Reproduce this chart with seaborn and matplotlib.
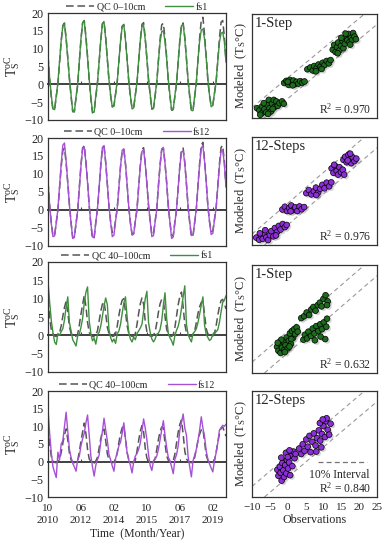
import matplotlib
matplotlib.use('Agg')
import matplotlib.pyplot as plt
import matplotlib.patheffects as pe
import seaborn as sns

# monthly series, Oct 2010 .. Oct 2019 (index 0 = Oct 2010)
months = list(range(109))
date_ticks = [0, 20, 40, 60, 80, 100]
date_labels = ['10\n2010', '06\n2012', '02\n2014', '10\n2015', '06\n2017', '02\n2019']

qc_top = [8.0, 1.5, -3.5,
          -7.2, -7.0, -3.5, 0.0, 6.0, 12.0, 16.5, 17.2, 13.0, 7.5, 1.5, -3.5,
          -7.7, -7.5, -3.8, -0.3, 6.2, 12.5, 17.2, 17.9, 13.5, 7.8, 1.2, -4.0,
          -8.0, -7.6, -3.5, 0.2, 6.0, 12.2, 17.0, 17.6, 13.2, 7.2, 1.0, -3.2,
          -6.2, -6.0, -2.8, 0.5, 6.3, 12.0, 16.3, 16.8, 12.8, 7.0, 0.8, -3.5,
          -6.7, -6.5, -3.0, 0.3, 6.5, 12.4, 16.8, 17.3, 13.0, 7.4, 1.2, -3.0,
          -6.9, -6.6, -3.2, 0.4, 6.8, 12.6, 16.7, 17.1, 12.9, 7.6, 1.0, -3.4,
          -7.2, -7.0, -3.3, 0.2, 6.4, 12.4, 16.8, 17.2, 13.3, 7.3, 0.9, -3.6,
          -7.4, -7.2, -3.5, 0.3, 6.9, 13.0, 18.0, 18.8, 13.8, 7.9, 1.1, -3.2,
          -6.0, -5.8, -2.6, 0.6, 6.6, 12.8, 17.4, 17.9, 13.4, 6.5]

fs1_top = [7.8, 1.8, -3.2,
           -6.9, -7.1, -3.2, 0.4, 6.4, 12.3, 16.4, 17.0, 12.6, 7.2, 1.8, -3.0,
           -7.5, -7.8, -3.5, 0.0, 6.5, 12.8, 17.3, 17.8, 13.0, 7.5, 1.5, -3.6,
           -7.8, -7.8, -3.2, 0.5, 6.3, 12.3, 16.9, 17.4, 12.8, 7.0, 1.3, -3.0,
           -6.4, -6.1, -2.5, 0.8, 6.5, 12.0, 16.2, 16.6, 12.4, 6.8, 1.0, -3.2,
           -6.9, -6.6, -2.8, 0.6, 6.6, 12.2, 16.2, 16.5, 12.5, 7.0, 1.4, -2.8,
           -7.0, -6.8, -3.0, 0.7, 6.5, 11.8, 14.8, 15.0, 12.0, 7.2, 1.2, -3.0,
           -7.3, -7.1, -3.0, 0.5, 6.5, 12.3, 16.5, 16.8, 12.8, 7.0, 1.2, -3.2,
           -7.3, -7.4, -3.2, 0.6, 6.8, 12.2, 15.2, 15.5, 12.6, 7.4, 1.4, -3.0,
           -6.3, -5.9, -2.4, 0.8, 6.4, 11.8, 14.3, 14.6, 12.0, 6.2]

fs12_top = [8.2, 1.2, -3.8,
            -7.4, -7.2, -3.6, 0.2, 6.5, 12.8, 18.0, 18.6, 13.6, 7.6, 1.4, -3.6,
            -7.9, -7.6, -3.7, -0.1, 6.0, 12.2, 17.0, 17.5, 13.2, 7.6, 1.3, -3.8,
            -7.5, -7.7, -3.4, 0.3, 6.2, 12.4, 17.4, 17.9, 13.3, 7.3, 1.1, -3.4,
            -7.4, -7.0, -3.0, 0.4, 6.2, 12.1, 16.6, 17.0, 12.9, 7.1, 0.9, -3.6,
            -7.0, -6.7, -3.1, 0.2, 6.3, 12.0, 16.3, 16.7, 12.8, 7.2, 1.3, -3.1,
            -7.4, -7.1, -3.3, 0.3, 6.6, 12.4, 17.0, 17.4, 13.0, 7.5, 1.1, -3.5,
            -7.9, -7.5, -3.4, 0.1, 6.2, 12.1, 16.1, 16.5, 12.9, 7.1, 1.0, -3.4,
            -7.1, -6.9, -3.3, 0.4, 6.7, 12.6, 17.3, 17.8, 13.4, 7.6, 1.2, -3.3,
            -6.8, -6.5, -2.8, 0.5, 6.3, 12.2, 16.3, 16.7, 12.8, 6.3]

qc_deep = [9.8, 5.0, 1.5, 0.3, -0.2, -0.3, 0.0, 0.6, 2.6, 5.2,
           7.6, 9.3, 6.2, 2.4, 0.5, 0.0, -0.3, -0.2, 0.3, 2.8,
           5.8, 8.4, 10.9, 8.0, 3.5, 0.8, 0.1, -0.3, -0.4, 0.2,
           1.2, 3.8, 6.5, 8.5, 9.2, 6.0, 2.2, 0.5, 0.0, -0.3,
           -0.2, 0.4, 2.5, 5.4, 7.9, 9.6, 10.0, 6.5, 2.6, 0.6,
           0.0, -0.3, -0.2, 0.5, 3.0, 6.0, 8.6, 10.2, 8.5, 3.8,
           1.0, 0.2, -0.2, -0.3, 0.1, 0.9, 3.4, 6.3, 8.6, 9.8,
           9.6, 5.2, 1.6, 0.4, -0.1, -0.3, 0.2, 2.2, 5.3, 8.4,
           10.6, 11.8, 7.8, 3.0, 0.8, 0.1, -0.2, -0.3, 0.2, 1.2,
           3.5, 6.0, 7.8, 9.0, 9.3, 5.6, 1.8, 0.4, 0.0, -0.3,
           -0.2, 0.4, 2.6, 5.4, 7.8, 9.5, 9.8, 8.6, 7.2]

fs1_deep = [14.8, 9.0, 4.0, 0.8, -1.8, -2.5, 0.5, 0.0, 1.0, 1.8,
            4.2, 7.8, 10.5, 3.5, 1.2, -1.2, -2.0, -2.9, -0.2, 0.3,
            2.2, 4.6, 8.8, 11.8, 13.2, 4.0, 0.5, -1.5, -0.8, -2.4,
            0.2, 0.8, 2.5, 5.2, 8.0, 10.2, 8.4, 1.5, -0.6, -1.8,
            -1.0, -2.2, 0.4, 1.2, 3.0, 6.0, 8.8, 10.5, 5.0, 0.8,
            -1.0, -1.8, -0.5, -1.2, 0.5, 1.2, 2.0, 3.0, 6.5, 10.0,
            12.0, 3.5, 0.8, -1.0, -1.8, -1.0, 0.3, 0.6, 1.6, 4.0,
            8.2, 11.6, 4.5, 0.5, -0.7, -1.5, -2.7, 0.0, 1.4, 2.5,
            4.5, 7.3, 10.5, 13.5, 3.0, 0.2, -0.9, -1.8, 0.5, 1.0,
            1.8, 3.5, 5.8, 8.2, 10.5, 2.7, 0.3, -0.6, -1.4, -1.0,
            0.3, 0.5, 1.0, 1.5, 3.5, 6.4, 9.0, 9.6, 10.8]

fs12_deep = [15.0, 8.0, 2.5, -1.4, -3.0, -4.5, 2.7, 0.5, 5.0, 5.9,
             10.0, 14.0, 8.6, 3.5, 1.2, -0.5, -1.5, -2.7, 0.5, 1.6,
             4.5, 6.5, 8.0, 11.0, 13.2, 7.5, 1.6, -1.5, -4.1, -1.0,
             0.5, 1.8, 5.5, 8.5, 12.3, 9.0, 6.0, 2.0, 0.5, -1.2,
             -2.7, 0.9, 2.5, 4.5, 5.5, 8.0, 11.0, 6.5, 2.5, 0.5,
             -1.0, -3.2, 0.0, 1.6, 2.3, 3.5, 5.3, 8.5, 12.1, 9.5,
             6.2, 2.0, -1.1, -2.5, 0.2, 0.7, 1.6, 3.5, 6.2, 9.0,
             11.6, 7.5, 4.0, 1.2, 0.3, -1.5, -3.4, 0.7, 2.0, 4.5,
             8.9, 11.0, 13.5, 9.5, 7.5, 1.5, -1.5, -4.3, 0.3, 1.8,
             3.5, 6.0, 8.9, 12.7, 9.5, 7.1, 3.0, 0.7, -0.6, -1.8,
             -2.9, 0.3, 2.5, 5.3, 8.9, 9.6, 10.3, 10.0, 10.6]

# scatter: observations vs modelled
obs_1 = [-8.6, -7.9, -7.2, -7.2, -6.5, -6.0, -5.8, -5.3, -5.1, -4.7, -4.4, -3.9, -3.7, -3.2, -2.8,
         -2.3, -1.6, -1.1, -6.7, -7.7, -5.5, -4.2,
         -1.0, -0.4, 0.2, 0.6, 1.1, 1.6, 2.0, 2.5, 3.0, 3.5, 4.1, 4.7, 0.0, 1.4,
         5.5, 6.3, 7.0, 7.4, 8.1, 8.6, 9.2, 9.8, 10.3, 10.9, 11.5, 12.0, 7.9, 9.5,
         12.6, 13.0, 13.4, 13.8, 14.1, 14.5, 14.9, 15.3, 15.6, 16.0, 16.3, 16.7, 17.0, 17.3,
         17.7, 18.0, 18.3, 18.7, 19.1, 16.2, 14.0, 15.0, 17.5]
mod_1 = [-6.7, -7.4, -6.1, -8.3, -7.0, -8.1, -5.5, -3.9, -6.7, -7.8, -5.2, -3.9, -6.3, -4.4, -5.9,
         -5.0, -4.4, -5.2, -5.0, -8.9, -8.6, -6.9,
         1.8, 2.5, 1.2, 2.8, 1.9, 2.6, 1.4, 2.2, 1.6, 2.4, 1.9, 2.3, 2.2, 1.0,
         6.4, 7.0, 6.0, 7.5, 6.8, 8.0, 7.3, 8.6, 7.8, 9.2, 8.4, 9.5, 5.7, 6.5,
         13.0, 14.6, 12.2, 13.8, 15.4, 12.8, 14.3, 16.0, 13.5, 15.0, 17.5, 16.2, 18.3, 15.5,
         17.0, 16.2, 18.6, 17.4, 16.5, 18.4, 11.8, 17.0, 14.7]

obs_2 = [-8.8, -8.0, -7.5, -7.0, -6.6, -6.0, -5.5, -5.0, -4.6, -4.0, -3.6, -3.0, -2.5, -2.0, -1.4,
         -0.8, -0.3, -6.3, -3.3, -7.8,
         -1.5, -0.8, -0.2, 0.4, 1.0, 1.5, 2.1, 2.7, 3.3, 3.9, 4.6, 0.8,
         5.2, 5.9, 6.6, 7.3, 7.9, 8.5, 9.1, 9.7, 10.3, 10.9, 11.6, 12.2, 8.0,
         12.3, 12.8, 13.3, 13.7, 14.1, 14.5, 14.9, 15.4, 15.8, 13.0,
         15.6, 16.1, 16.5, 17.0, 17.4, 17.8, 18.2, 18.7, 19.2, 17.5, 16.8]
mod_2 = [-7.6, -8.3, -7.0, -8.0, -6.3, -7.5, -8.4, -6.8, -5.5, -7.2, -4.5, -5.8, -3.8, -5.0, -3.2,
         -4.2, -3.5, -5.2, -6.9, -6.2,
         1.5, 2.4, 1.0, 2.0, 2.8, 1.3, 2.2, 1.0, 2.5, 1.6, 2.3, 0.9,
         6.8, 7.8, 6.4, 7.4, 8.6, 7.0, 8.2, 9.5, 8.4, 10.2, 9.0, 10.3, 6.2,
         14.8, 13.4, 15.6, 14.0, 12.8, 15.2, 13.6, 14.4, 12.8, 16.0,
         17.6, 18.6, 16.8, 19.2, 17.8, 16.5, 18.4, 17.2, 18.0, 19.6, 17.4]

obs_3 = [-3.0, -2.6, -2.2, -2.0, -1.6, -1.2, -1.0, -0.6, -0.3, 0.0, 0.3, 0.6, 0.9, 1.2, 1.5,
         1.8, 2.1, 2.5, 2.8, -1.8, -0.8, 0.5, -2.8, 1.0,
         3.8, 4.6, 5.3, 6.0, 6.6, 7.2, 7.8, 8.4, 9.0, 9.5, 10.0, 10.6, 11.2, 11.0,
         4.4, 4.8, 5.4, 5.8, 6.5, 7.0, 7.5, 8.0, 8.6, 9.1, 9.6, 10.1, 10.5, 10.8, 11.0, 9.2, 7.6]
mod_3 = [-1.5, -2.8, -0.5, -3.5, -1.8, 0.2, -2.6, -1.0, 1.5, -2.0, 0.5, 2.8, -0.6, 3.6, 1.4,
         4.2, 2.6, 4.8, 3.4, 0.8, -3.2, -1.4, -0.2, 1.0,
         7.8, 8.4, 9.6, 8.8, 10.6, 11.4, 10.2, 12.0, 12.8, 11.6, 14.0, 15.2, 13.2, 12.0,
         0.8, 2.4, 1.2, 3.4, 2.0, 4.4, 2.8, 5.2, 3.6, 5.8, 4.2, 6.4, 1.0, 5.0, 7.6, 1.8, 0.6]

obs_4 = [-2.9, -2.6, -2.2, -2.0, -1.7, -1.5, -1.2, -1.0, -0.7, -0.4, -0.2, 0.1, 0.4, 0.7, 1.0,
         1.3, 1.6, 1.9, 2.2, -0.5, 0.5, -1.8, 0.0,
         3.2, 3.8, 4.2, 4.7, 5.2, 5.6, 6.1, 6.4, 6.9, 7.3, 7.8, 8.2, 8.7, 9.1, 9.6, 10.0,
         10.4, 10.8, 11.2, 11.6, 12.0, 10.9, 9.4, 8.0, 9.0, 9.8]
mod_4 = [-1.0, -3.0, 0.0, -2.0, -4.6, 1.2, -1.2, -3.4, 0.5, -2.2, 2.2, -0.6, 1.4, -2.8, 3.6,
         0.2, 5.0, 2.8, 4.2, 4.6, 5.4, 3.0, 3.2,
         6.0, 4.2, 7.4, 5.2, 9.0, 6.6, 10.2, 4.8, 8.2, 11.0, 7.0, 9.4, 12.0, 8.6, 10.8, 13.4,
         9.8, 15.0, 12.2, 10.6, 14.2, 16.0, 6.4, 5.0, 14.4, 15.6]

r2_values = ['0.970', '0.976', '0.632', '0.840']
step_names = ['1-Step', '12-Steps', '1-Step', '12-Steps']
interval = 3.5

sns.set_style('white')
plt.rcParams['font.family'] = ['Liberation Serif', 'DejaVu Serif']
plt.rcParams['mathtext.fontset'] = 'custom'
plt.rcParams['mathtext.rm'] = 'Liberation Serif'
plt.rcParams['mathtext.it'] = 'Liberation Serif:italic'

green_line = '#3f8f3f'
purple_line = '#a650d6'
green_pt = '#1d6b1d'
purple_pt = '#8c2fd6'
frame = '#333333'

fig = plt.figure(figsize=(3.85, 5.5), dpi=100)

rows_left = [(13, 120), (138, 246), (262, 372), (391, 497)]
rows_right = [(14, 118), (137, 245), (265, 373), (391, 497)]

ts = [(qc_top, fs1_top, 'QC 0–10cm', 'fs1', green_line),
      (qc_top, fs12_top, 'QC 0–10cm', 'fs12', purple_line),
      (qc_deep, fs1_deep, 'QC 40–100cm', 'fs1', green_line),
      (qc_deep, fs12_deep, 'QC 40–100cm', 'fs12', purple_line)]
sc = [(obs_1, mod_1, green_pt), (obs_2, mod_2, purple_pt),
      (obs_3, mod_3, green_pt), (obs_4, mod_4, purple_pt)]

for i in range(4):
    top, bot = rows_left[i]
    ax = fig.add_axes([48 / 385, 1 - bot / 550, 178 / 385, (bot - top) / 550])
    qc, mod, qlab, mlab, col = ts[i]
    sns.lineplot(x=months, y=qc, ax=ax, color='#555555', lw=1.1,
                 linestyle=(0, (5, 2.5)), label=qlab, errorbar=None, sort=False)
    sns.lineplot(x=months, y=mod, ax=ax, color=col, lw=1.0,
                 label=mlab, errorbar=None, sort=False)
    ax.set_xlim(0, 108)
    ax.set_ylim(-10, 20)
    ax.set_yticks(range(-10, 25, 5))
    ax.tick_params(axis='y', labelsize=8.7, length=0, pad=3)
    ax.set_xticks(date_ticks)
    if i == 3:
        ax.set_xticklabels(date_labels)
        for lbl in ax.get_xticklabels():
            lbl.set_linespacing(1.5)
        ax.tick_params(axis='x', labelsize=8, length=0, pad=5)
        ax.set_xlabel('Time  (Month/Year)', fontsize=8.5, labelpad=1)
    else:
        ax.tick_params(axis='x', labelbottom=False, length=0)
    ax.set_ylabel(r'$\mathregular{T_S^{oC}}$', fontsize=10, labelpad=2)
    for s in ax.spines.values():
        s.set_color(frame)
        s.set_linewidth(0.9)
    # horizontal axis crosses at 0
    zero = ax.secondary_xaxis(1 / 3)
    zero.set_xticks(date_ticks)
    zero.tick_params(labelbottom=False, labeltop=False, direction='in',
                     length=2.5, width=0.8, color='#404040')
    for s in zero.spines.values():
        s.set_color('#404040')
        s.set_linewidth(1.4)
    ax.legend(loc='center', bbox_to_anchor=(0.5, 1.055), ncol=2, frameon=False,
              fontsize=7.2, handlelength=2.8, handletextpad=0.25, columnspacing=2.0,
              borderpad=0, borderaxespad=0)

for i in range(4):
    top, bot = rows_right[i]
    ax = fig.add_axes([252 / 385, 1 - bot / 550, 125 / 385, (bot - top) / 550])
    obs, mod, col = sc[i]
    ax.axline((0, interval), slope=1, color='0.6', lw=0.8, ls=(0, (4, 3)), zorder=1)
    ax.axline((0, -interval), slope=1, color='0.6', lw=0.8, ls=(0, (4, 3)), zorder=1)
    sns.scatterplot(x=obs, y=mod, ax=ax, color=col, edgecolor='black',
                    linewidth=0.5, s=17, zorder=3)
    ax.collections[-1].set_path_effects([
        pe.SimplePatchShadow(offset=(1.3, -1.3), shadow_rgbFace='0.45', alpha=0.3),
        pe.Normal()])
    ax.set_xlim(-10, 25)
    ax.set_ylim(-10, 25)
    ax.set_xticks(range(-10, 30, 5))
    ax.set_yticks(range(-5, 25, 5))
    ax.tick_params(axis='both', direction='in', length=3, width=0.8, color=frame,
                   labelleft=False)
    if i == 3:
        ax.tick_params(axis='x', labelsize=8, pad=4)
        ax.set_xlabel('Observations', fontsize=8.7, labelpad=2)
        ax.plot([0.53, 0.92], [0.33, 0.33], transform=ax.transAxes, color='0.45',
                lw=0.9, ls=(0, (4, 2.5)))
        ax.text(0.70, 0.21, '10% Interval', transform=ax.transAxes, fontsize=8.4,
                ha='center', va='center')
    else:
        ax.tick_params(axis='x', labelbottom=False)
    ax.set_ylabel('Modeled  (T$_\\mathregular{S}$°C)', fontsize=9, labelpad=2)
    ax.text(0.025, 0.97, step_names[i], transform=ax.transAxes, fontsize=10.5,
            ha='left', va='top')
    ax.text(0.955, 0.015, 'R$^\\mathregular{2}$ = ' + r2_values[i], transform=ax.transAxes,
            fontsize=8.4, ha='right', va='bottom')
    for s in ax.spines.values():
        s.set_color(frame)
        s.set_linewidth(0.9)

fig.savefig('out.png', dpi=100)
